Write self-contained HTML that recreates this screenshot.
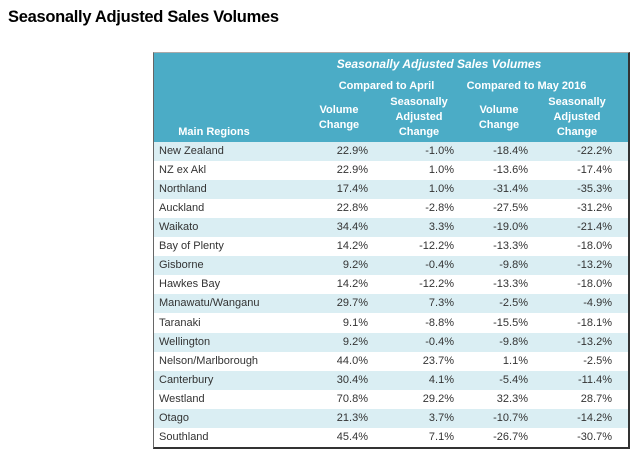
<!DOCTYPE html>
<html><head><meta charset="utf-8"><style>
body{margin:0;width:635px;height:459px;background:#fff;font-family:"Liberation Sans",sans-serif;position:relative;overflow:hidden}
#title{position:absolute;left:8px;top:8px;font-size:16.5px;font-weight:bold;color:#000;letter-spacing:-0.3px}
#box{position:absolute;left:153px;top:52px;width:474px;height:394px;border-right:2px solid #333;border-bottom:2px solid #333;border-left:1px solid #666;border-top:1px solid #aaa}
#hdr{position:absolute;left:0;top:0;width:474px;height:89px;background:#4BACC6;color:#fff;font-weight:bold;font-size:11px}
.t{position:absolute;white-space:nowrap;text-align:center;line-height:15px}
.row{position:absolute;left:0;width:474px;height:19px;font-size:11px;color:#333}
.row span{position:absolute;top:3px;white-space:nowrap}
</style></head><body>
<div id="title">Seasonally Adjusted Sales Volumes</div>
<div id="box">
 <div id="hdr">
  <div class="t" style="left:150px;width:270px;top:4px;font-style:italic;font-size:12px">Seasonally Adjusted Sales Volumes</div>
  <div class="t" style="left:150px;width:165px;top:26px">Compared to April</div>
  <div class="t" style="left:300px;width:145px;top:26px">Compared to May 2016</div>
  <div class="t" style="left:155px;width:60px;top:50px">Volume<br>Change</div>
  <div class="t" style="left:230px;width:70px;top:42px">Seasonally<br>Adjusted<br>Change</div>
  <div class="t" style="left:315px;width:60px;top:50px">Volume<br>Change</div>
  <div class="t" style="left:388px;width:70px;top:42px">Seasonally<br>Adjusted<br>Change</div>
  <div class="t" style="left:20px;width:80px;top:72px">Main Regions</div>
 </div>
 <div id="rows"></div>
</div>
<script>
const regions=["New Zealand","NZ ex Akl","Northland","Auckland","Waikato","Bay of Plenty","Gisborne","Hawkes Bay","Manawatu/Wanganu","Taranaki","Wellington","Nelson/Marlborough","Canterbury","Westland","Otago","Southland"];
const volApr=["22.9%","22.9%","17.4%","22.8%","34.4%","14.2%","9.2%","14.2%","29.7%","9.1%","9.2%","44.0%","30.4%","70.8%","21.3%","45.4%"];
const saApr=["-1.0%","1.0%","1.0%","-2.8%","3.3%","-12.2%","-0.4%","-12.2%","7.3%","-8.8%","-0.4%","23.7%","4.1%","29.2%","3.7%","7.1%"];
const volMay=["-18.4%","-13.6%","-31.4%","-27.5%","-19.0%","-13.3%","-9.8%","-13.3%","-2.5%","-15.5%","-9.8%","1.1%","-5.4%","32.3%","-10.7%","-26.7%"];
const saMay=["-22.2%","-17.4%","-35.3%","-31.2%","-21.4%","-18.0%","-13.2%","-18.0%","-4.9%","-18.1%","-13.2%","-2.5%","-11.4%","28.7%","-14.2%","-30.7%"];
const rowsEl=document.getElementById('rows');
const rights=[260,174,100,16];
regions.forEach((r,i)=>{
 const d=document.createElement('div');
 d.className='row';
 
 
 d.style.top=(89+i*19.06)+'px';
 d.style.background=i%2===0?'#DAEEF3':'#fff';
 const l=document.createElement('span');
 
 
 l.style.left='5px';l.textContent=r;d.appendChild(l);
 [volApr[i],saApr[i],volMay[i],saMay[i]].forEach((v,j)=>{
  const s=document.createElement('span');
  
  
  s.style.right=rights[j]+'px';s.textContent=v;d.appendChild(s);
 });
 rowsEl.appendChild(d);
});
</script>
</body></html>
